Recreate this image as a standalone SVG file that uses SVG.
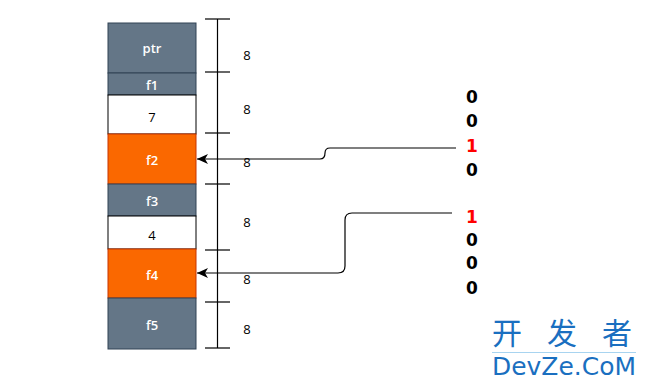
<svg xmlns="http://www.w3.org/2000/svg" width="647" height="387" viewBox="0 0 647 387">
<style>
.g{fill:#647687;stroke:#314354;stroke-width:1}
.o{fill:#fa6800;stroke:#c73500;stroke-width:1}
.w{fill:#ffffff;stroke:#000000;stroke-width:1}
.lt{font-family:"Open Sans","DejaVu Sans",sans-serif;font-size:13px;font-weight:600;fill:#ffffff;text-anchor:middle;dominant-baseline:central}
.dt{font-family:"Open Sans","DejaVu Sans",sans-serif;font-size:13px;fill:#000000;text-anchor:middle;dominant-baseline:central}
.r{stroke:#000;stroke-width:1.2;fill:none}
.n{font-family:"Open Sans","DejaVu Sans",sans-serif;font-size:13px;fill:#000;text-anchor:middle;dominant-baseline:central}
.b{font-family:"DejaVu Sans","Verdana",sans-serif;font-weight:bold;font-size:17px;fill:#000;text-anchor:middle;dominant-baseline:central}
.red{fill:#ff0000}
.c{stroke:#000;stroke-width:1.2;fill:none;marker-end:url(#ah)}
.cj{font-family:"Noto Sans CJK SC",sans-serif;font-size:30px;fill:#1a6fc0;text-anchor:middle}
</style>
<defs>
<marker id="ah" markerWidth="12" markerHeight="10" refX="11" refY="5" orient="auto" markerUnits="userSpaceOnUse">
<path d="M0,0 L11,5 L0,10 L3,5 Z" fill="#000"/>
</marker>
</defs>
<g id="ptr"><rect class="g" x="108" y="23" width="88" height="50"/><text class="lt" x="152" y="48">ptr</text></g>
<g id="f1"><rect class="g" x="108" y="73" width="88" height="22"/><text class="lt" x="152" y="85">f1</text></g>
<g id="v7"><rect class="w" x="108" y="95" width="88" height="39"/><text class="dt" x="152" y="117">7</text></g>
<g id="f2"><rect class="o" x="108" y="134" width="88" height="50"/><text class="lt" x="152" y="160">f2</text></g>
<g id="f3"><rect class="g" x="108" y="184" width="88" height="32"/><text class="lt" x="152" y="201">f3</text></g>
<g id="v4"><rect class="w" x="108" y="216" width="88" height="33"/><text class="dt" x="152" y="235">4</text></g>
<g id="f4"><rect class="o" x="108" y="249" width="88" height="49"/><text class="lt" x="152" y="275">f4</text></g>
<g id="f5"><rect class="g" x="108" y="298" width="88" height="51"/><text class="lt" x="152" y="325">f5</text></g>
<g id="ruler">
<line class="r" x1="217.5" y1="19" x2="217.5" y2="348"/>
<line class="r" x1="205" y1="19" x2="230" y2="19"/>
<line class="r" x1="205" y1="72" x2="230" y2="72"/>
<line class="r" x1="205" y1="133" x2="230" y2="133"/>
<line class="r" x1="205" y1="184" x2="230" y2="184"/>
<line class="r" x1="205" y1="250" x2="230" y2="250"/>
<line class="r" x1="205" y1="302" x2="230" y2="302"/>
<line class="r" x1="205" y1="348" x2="230" y2="348"/>
<text class="n" x="247" y="55">8</text>
<text class="n" x="247" y="109">8</text>
<text class="n" x="247" y="162">8</text>
<text class="n" x="247" y="222">8</text>
<text class="n" x="247" y="279">8</text>
<text class="n" x="247" y="329">8</text>
</g>
<g id="bits1">
<text class="b" x="472" y="97">0</text>
<text class="b" x="472" y="121">0</text>
<text class="b red" x="472" y="146">1</text>
<text class="b" x="472" y="170">0</text>
</g>
<g id="bits2">
<text class="b red" x="472" y="217">1</text>
<text class="b" x="472" y="240">0</text>
<text class="b" x="472" y="263">0</text>
<text class="b" x="472" y="288">0</text>
</g>
<g id="connectors">
<path class="c" d="M456,148 L330,148 Q325,148 325,153 Q325,159 320,159 L197,159"/>
<path class="c" d="M452,213 L352,213 Q345,213 345,220 L345,266 Q345,273 338,273 L197,273"/>
</g>
<g id="watermark">
<text class="cj" x="507" y="344">开</text>
<text class="cj" x="562" y="344">发</text>
<text class="cj" x="617" y="344">者</text>
<line x1="492" y1="352.5" x2="636" y2="352.5" stroke="#a8d4f0" stroke-width="1"/>
<text x="564" y="375" font-family="'DejaVu Sans',sans-serif" font-size="24" fill="#1a6fc0" text-anchor="middle" textLength="144" lengthAdjust="spacingAndGlyphs">DevZe.CoM</text>
</g>
</svg>
